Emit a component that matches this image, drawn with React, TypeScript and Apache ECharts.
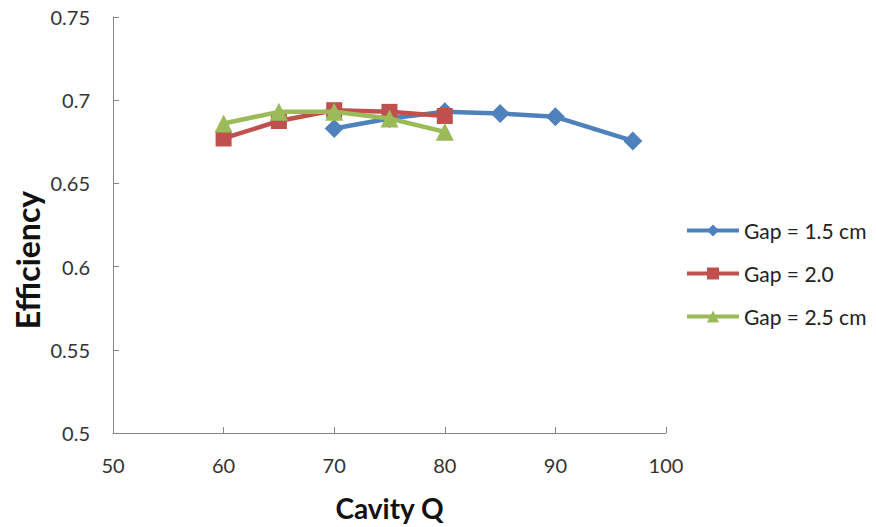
import React, { useEffect, useRef } from "react";
import * as echarts from "echarts";

const seriesNames = ["Gap = 1.5 cm", "Gap = 2.0", "Gap = 2.5 cm"];
const gap15X = [70, 75, 80, 85, 90, 97];
const gap15Y = [0.683, 0.689, 0.693, 0.692, 0.690, 0.6755];
const gap20X = [60, 65, 70, 75, 80];
const gap20Y = [0.677, 0.6875, 0.694, 0.693, 0.6905];
const gap25X = [60, 65, 70, 75, 80];
const gap25Y = [0.686, 0.693, 0.693, 0.689, 0.681];
const colors = ["#4F81BD", "#C0504D", "#9BBB59"];
const symbols = ["diamond", "rect", "triangle"];
const symbolSizes = [19, 16, 18];

const FONT = "Lato, 'Open Sans', sans-serif";

export default function App() {
  const ref = useRef<HTMLDivElement>(null);
  useEffect(() => {
    document.body.style.margin = "0";
    const chart = echarts.init(ref.current!, undefined, { renderer: "svg" });
    const xs = [gap15X, gap20X, gap25X];
    const ys = [gap15Y, gap20Y, gap25Y];
    chart.setOption({
      animation: false,
      backgroundColor: "#ffffff",
      textStyle: { fontFamily: FONT },
      grid: { left: 113, right: 210, top: 17, bottom: 93 },
      legend: {
        orient: "vertical",
        left: 685,
        top: 220,
        padding: 0,
        itemGap: 22,
        itemWidth: 52,
        itemHeight: 15,
        lineStyle: { width: 4 },
        textStyle: { fontFamily: FONT, fontSize: 21, color: "#222" },
        data: seriesNames,
      },
      graphic: [
        {
          type: "text",
          x: 27,
          y: 260,
          rotation: Math.PI / 2,
          style: {
            text: "Efficiency",
            fontFamily: FONT,
            fontSize: 32,
            fontWeight: "bold",
            fill: "#111",
            textAlign: "center",
            textVerticalAlign: "middle",
          },
        },
      ],
      xAxis: {
        type: "value",
        min: 50,
        max: 100,
        interval: 10,
        name: "Cavity Q",
        nameLocation: "middle",
        nameGap: 61,
        nameTextStyle: { fontFamily: FONT, fontSize: 28, fontWeight: "bold", color: "#111" },
        axisLine: { lineStyle: { color: "#868686", width: 1 } },
        axisTick: { inside: true, length: 6, lineStyle: { color: "#868686" } },
        axisLabel: { fontFamily: FONT, fontSize: 20, color: "#333", margin: 22 },
        splitLine: { show: false },
      },
      yAxis: {
        type: "value",
        min: 0.5,
        max: 0.75,
        interval: 0.05,
        axisLine: { show: true, lineStyle: { color: "#868686", width: 1 } },
        axisTick: { show: true, inside: true, length: 6, lineStyle: { color: "#868686" } },
        axisLabel: {
          fontFamily: FONT,
          fontSize: 20,
          color: "#333",
          margin: 23,
          formatter: (v: number) => String(parseFloat(v.toFixed(2))),
        },
        splitLine: { show: false },
      },
      series: seriesNames.map((name, i) => ({
        name,
        type: "line",
        data: xs[i].map((x, j) => [x, ys[i][j]]),
        symbol: symbols[i],
        symbolSize: symbolSizes[i],
        showAllSymbol: true,
        color: colors[i],
        lineStyle: { color: colors[i], width: 4.5 },
        itemStyle: { color: colors[i] },
        z: 2 + i,
      })),
    });
    return () => chart.dispose();
  }, []);
  return <div ref={ref} style={{ width: 876, height: 527 }} />;
}
